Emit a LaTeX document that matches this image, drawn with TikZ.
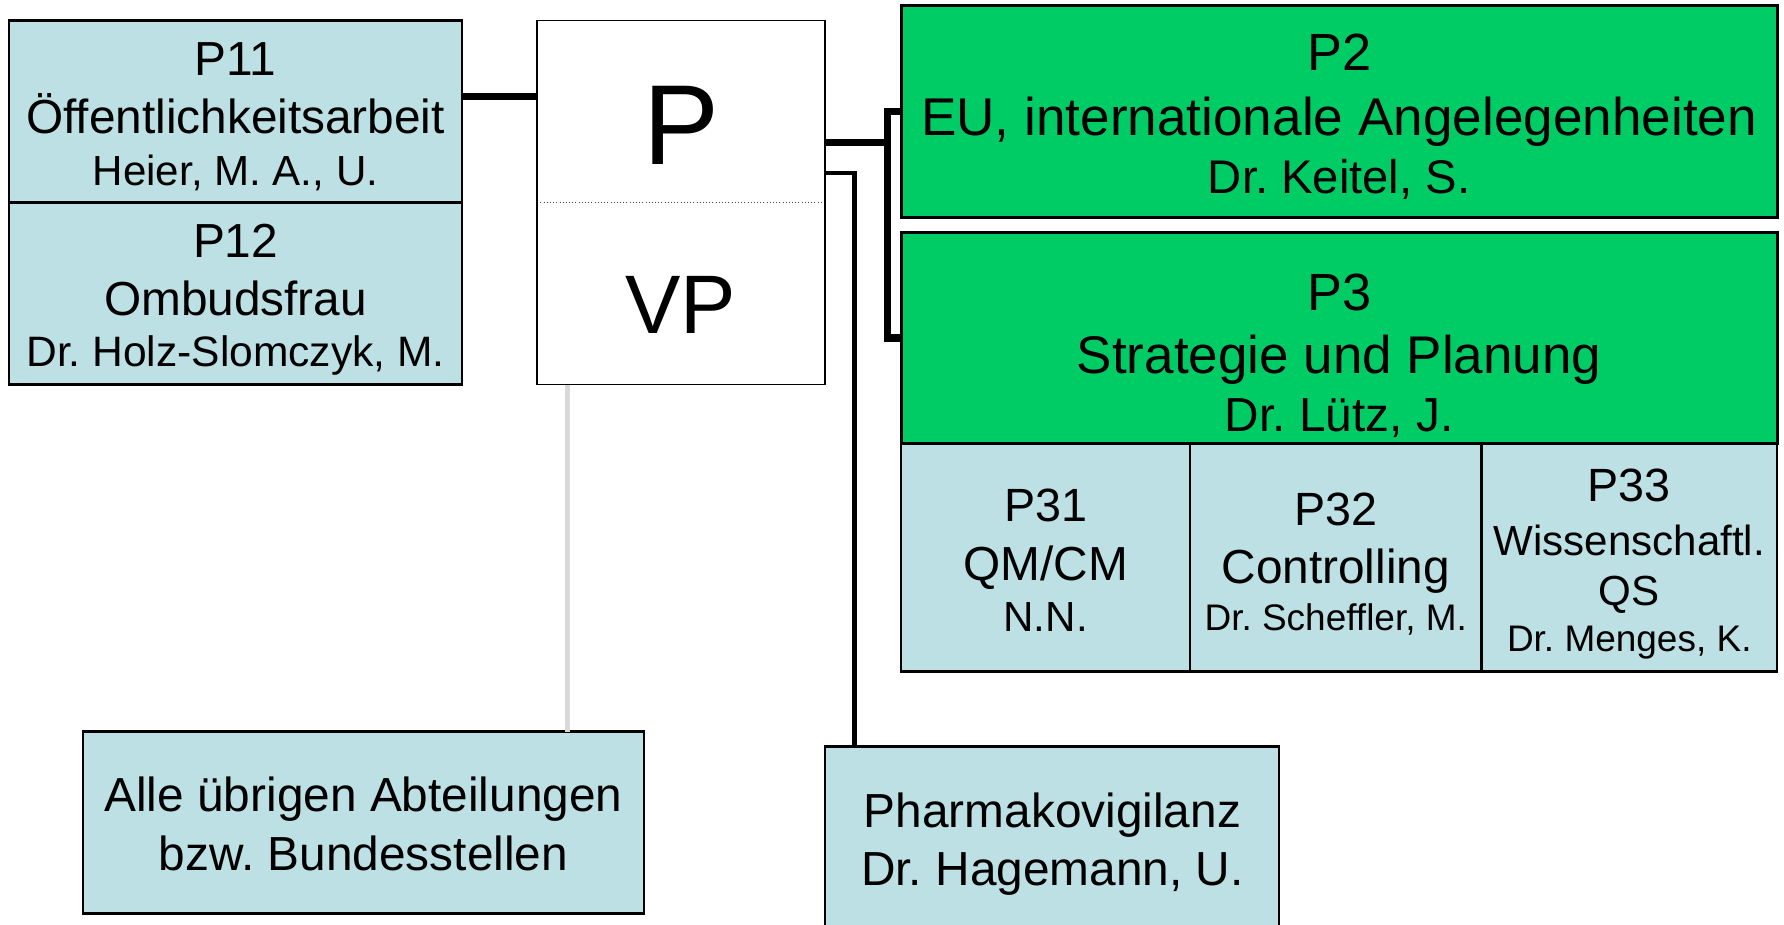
\documentclass[tikz,border=0pt]{standalone}
\usepackage{fontspec}
\setmainfont{Liberation Sans}
\frenchspacing
\newcommand{\fsz}[1]{\fontsize{#1}{#1}\selectfont}
\definecolor{lblue}{RGB}{188,224,227}
\definecolor{pgreen}{RGB}{0,204,102}
\definecolor{lgray}{RGB}{217,217,217}
\begin{document}
\begin{tikzpicture}[x=1pt, y=-1pt,
  every node/.style={inner sep=0pt, outer sep=0pt},
  bluebox/.style={rectangle, draw=black, fill=lblue, line width=2.2pt, anchor=north west},
  greenbox/.style={rectangle, draw=black, fill=pgreen, line width=2.5pt, anchor=north west},
  whitebox/.style={rectangle, draw=black, fill=white, line width=1.5pt, anchor=north west},
  lbl/.style={anchor=base, font=\fsz{#1}},
  thickline/.style={draw=black, line width=6.5pt},
  medline/.style={draw=black, line width=4.2pt},
  grayline/.style={draw=lgray, line width=4pt}]
\clip (0,0) rectangle (1568,813);
\fill[white] (0,0) rectangle (1568,813);
% boxes
\node[bluebox, minimum width=398pt, minimum height=160pt] (p11) at (8,18) {};
\node[bluebox, minimum width=398pt, minimum height=160pt] (p12) at (8,178) {};
\node[whitebox, minimum width=253pt, minimum height=320pt] (pbox) at (472,18) {};
\node[greenbox, minimum width=770pt, minimum height=186pt] (p2) at (792,5) {};
\node[greenbox, minimum width=770pt, minimum height=186pt] (p3) at (792,204) {};
\node[bluebox, minimum width=254pt, minimum height=200pt] (p31) at (792,390) {};
\node[bluebox, minimum width=256pt, minimum height=200pt] (p32) at (1046,390) {};
\node[bluebox, minimum width=260pt, minimum height=200pt] (p33) at (1302,390) {};
\node[bluebox, minimum width=493pt, minimum height=160pt] (alle) at (73,643) {};
\node[bluebox, minimum width=399pt, minimum height=190pt] (pharma) at (725,656) {};
% connectors
\coordinate (bx) at ([xshift=-12pt]p2.west);
\draw[thickline] ([yshift=13pt]p11.east) -- ([yshift=13pt]p11.east -| pbox.west);
\draw[thickline] ([yshift=53pt]pbox.east) -- ([yshift=53pt]pbox.east -| bx);
\draw[thickline] (p2.west) -- (bx) |- (p3.west);
\draw[medline] ([yshift=26pt]pbox.east) -| ([xshift=26pt]pharma.north west);
\draw[grayline] ([xshift=27pt]pbox.south west) -- ([xshift=27pt]pbox.south west |- alle.north);
\draw[dotted, line width=0.8pt, black!70] ([xshift=3pt]pbox.west) -- ([xshift=-3pt]pbox.east);
% texts
\node[lbl=42] (t11a) at (207,66) {P11};
\node[lbl=42] (t11b) at (207,117) {Öffentlichkeitsarbeit};
\node[lbl=37] (t11c) at (207,163) {Heier, M. A., U.};
\node[lbl=42] (t12a) at (207,226) {P12};
\node[lbl=42] (t12b) at (207,277) {Ombudsfrau};
\node[lbl=37.4] (t12c) at (207,322) {Dr. Holz-Slomczyk, M.};
\node[lbl=100] (tp) at (598.5,145) {P};
\node[lbl=73] (tvp) at (598.5,293) {VP};
\node[lbl=46] (t2a) at (1177,62) {P2};
\node[lbl=46.7] (t2b) at (1177,119) {EU, internationale Angelegenheiten};
\node[lbl=41.5] (t2c) at (1177,170) {Dr. Keitel, S.};
\node[lbl=46] (t3a) at (1177,272.5) {P3};
\node[lbl=46.6] (t3b) at (1177,328) {Strategie und Planung};
\node[lbl=42] (t3c) at (1177,379.5) {Dr. Lütz, J.};
\node[lbl=41] (t31a) at (919,458.5) {P31};
\node[lbl=42] (t31b) at (919,510) {QM/CM};
\node[lbl=37] (t31c) at (919,555) {N.N.};
\node[lbl=41] (t32a) at (1174,461.5) {P32};
\node[lbl=42] (t32b) at (1174,513) {Controlling};
\node[lbl=32.5] (t32c) at (1174,554) {Dr. Scheffler, M.};
\node[lbl=41] (t33a) at (1432,441) {P33};
\node[lbl=37] (t33b) at (1432,488) {Wissenschaftl.};
\node[lbl=37] (t33c) at (1432,532) {QS};
\node[lbl=32.5] (t33d) at (1432,573) {Dr. Menges, K.};
\node[lbl=42] (tal1) at (319.5,713.5) {Alle übrigen Abteilungen};
\node[lbl=42] (tal2) at (319.5,765) {bzw. Bundesstellen};
\node[lbl=42] (tph1) at (925,727) {Pharmakovigilanz};
\node[lbl=42] (tph2) at (925,778) {Dr. Hagemann, U.};
\end{tikzpicture}
\end{document}
